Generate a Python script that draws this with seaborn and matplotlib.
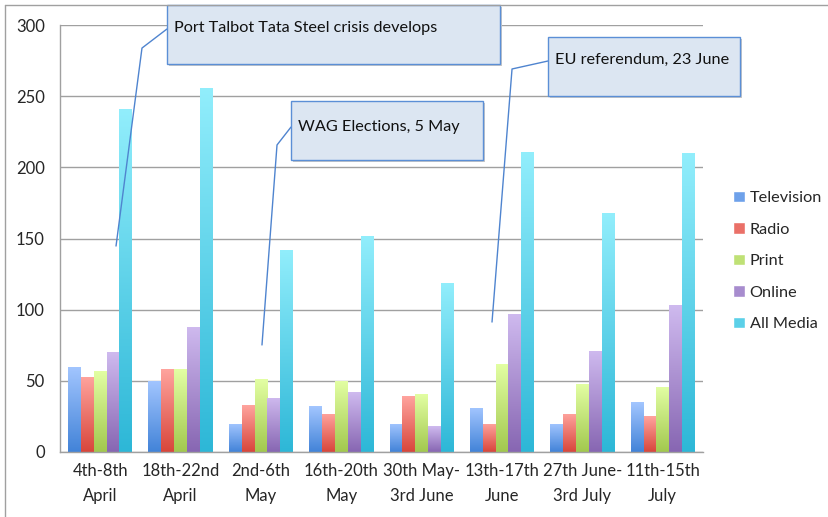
import numpy as np
import pandas as pd
import seaborn as sns
import matplotlib.pyplot as plt
from matplotlib.colors import LinearSegmentedColormap
from matplotlib.patches import Rectangle
from matplotlib.lines import Line2D

# Weekly coverage counts
weeks = ['4th-8th\nApril', '18th-22nd\nApril', '2nd-6th\nMay', '16th-20th\nMay',
         '30th May-\n3rd June', '13th-17th\nJune', '27th June-\n3rd July', '11th-15th\nJuly']
television = [60, 50, 20, 32, 20, 31, 20, 35]
radio = [53, 58, 33, 27, 39, 20, 27, 25]
print_media = [57, 58, 51, 50, 41, 62, 48, 46]
online = [70, 88, 38, 42, 18, 97, 71, 103]
all_media = [241, 256, 142, 152, 119, 211, 168, 210]

media = ['Television', 'Radio', 'Print', 'Online', 'All Media']
# (top, bottom) gradient colours per series
grad = {
    'Television': ('#a3c6ff', '#4283d8'),
    'Radio': ('#ffa49e', '#d8463b'),
    'Print': ('#e3ffa4', '#a2c84e'),
    'Online': ('#cfbaef', '#8766b2'),
    'All Media': ('#92eefc', '#2db7d7'),
}

# Callouts: text, box (x0, x1, y0, y1), text anchor, connector path
notes = [
    ('Port Talbot Tata Steel crisis develops', (0.83, 4.97, 272.6, 314.1), (0.92, 297.8),
     [(0.831, 297.2), (0.52, 283.8), (0.197, 144.7)]),
    ('WAG Elections, 5 May', (2.374, 4.763, 205.2, 246.6), (2.46, 228.6),
     [(2.374, 228.3), (2.2, 215.7), (2.013, 75.2)]),
    ('EU referendum, 23 June', (5.571, 7.96, 250.1, 291.6), (5.66, 275.8),
     [(5.571, 274.7), (5.124, 269.1), (4.875, 91.3)]),
]

df = pd.DataFrame({'week': weeks, 'Television': television, 'Radio': radio,
                   'Print': print_media, 'Online': online, 'All Media': all_media})
long = df.melt(id_vars='week', var_name='medium', value_name='count')

sns.set_style('white')
plt.rcParams['font.family'] = ['Lato', 'DejaVu Sans']

fig = plt.figure(figsize=(8.29, 5.17), dpi=100)
ax = fig.add_axes([60 / 829, 1 - 452 / 517, 643 / 829, 427 / 517])

sns.barplot(data=long, x='week', y='count', hue='medium', hue_order=media,
            palette={m: grad[m][1] for m in media}, saturation=1, width=0.8,
            legend=False, ax=ax)

# replace flat fills with vertical gradients
gradient = np.linspace(0, 1, 256).reshape(-1, 1)
cmaps = {}
for cont, m in zip(ax.containers, media):
    cmap = LinearSegmentedColormap.from_list(m, [grad[m][1], grad[m][0]])
    cmaps[m] = cmap
    for bar in cont:
        x0, w, h = bar.get_x(), bar.get_width(), bar.get_height()
        bar.set_facecolor('none')
        bar.set_edgecolor('none')
        im = ax.imshow(gradient, cmap=cmap, extent=(x0, x0 + w, 0, h),
                       origin='lower', aspect='auto', zorder=2)
        im.set_clip_path(bar)

ax.set_xlim(-0.5, 7.5)
ax.set_ylim(0, 300)
ax.set_yticks([0, 50, 100, 150, 200, 250, 300])
ax.set_xticks(np.arange(8))
ax.set_xticklabels(weeks, fontsize=12, linespacing=1.7)
ax.set_xticks(np.arange(-0.5, 8, 1), minor=True)
ax.tick_params(axis='x', which='major', length=0, pad=8)
ax.tick_params(axis='x', which='minor', length=5, color='#a0a0a0', direction='out')
ax.tick_params(axis='y', length=5, color='#a0a0a0', direction='out', pad=6, labelsize=12)
ax.set_xlabel('')
ax.set_ylabel('')
ax.yaxis.grid(True, color='#a0a0a0', linewidth=1)
ax.set_axisbelow(True)
for s in ['top', 'right']:
    ax.spines[s].set_visible(False)
for s in ['left', 'bottom']:
    ax.spines[s].set_color('#a0a0a0')
    ax.spines[s].set_linewidth(1)

# callout boxes
for text, (bx0, bx1, by0, by1), (tx, ty), path in notes:
    xs, ys = zip(*path)
    ax.plot(xs, ys, color='#4f84cf', linewidth=1, clip_on=False, zorder=5)
    ax.add_patch(Rectangle((bx0 + 0.03, by0 - 1.5), bx1 - bx0, by1 - by0,
                           facecolor='#c8c8c8', edgecolor='none', clip_on=False, zorder=5))
    ax.add_patch(Rectangle((bx0, by0), bx1 - bx0, by1 - by0, facecolor='#dce6f2',
                           edgecolor='#5b8fd6', linewidth=1, clip_on=False, zorder=6))
    ax.text(tx, ty, text, fontsize=11.7, va='center', ha='left', zorder=7, color='#111111')

# legend
handles = [Rectangle((0, 0), 1, 1, facecolor=cmaps[m](0.45)) for m in media]
fig.legend(handles, media, loc='center left', bbox_to_anchor=(718 / 829, 1 - 261 / 517),
           frameon=False, fontsize=11.7, handlelength=0.75, handleheight=0.7,
           handletextpad=0.3, labelspacing=1.05)

# chart frame (top and left edges)
fig.add_artist(Line2D([5 / 829, 1], [1 - 5 / 517, 1 - 5 / 517], transform=fig.transFigure,
                      color='#a0a0a0', linewidth=1))
fig.add_artist(Line2D([5 / 829, 5 / 829], [0, 1 - 5 / 517], transform=fig.transFigure,
                      color='#a0a0a0', linewidth=1))

fig.savefig('out.png', dpi=100)
